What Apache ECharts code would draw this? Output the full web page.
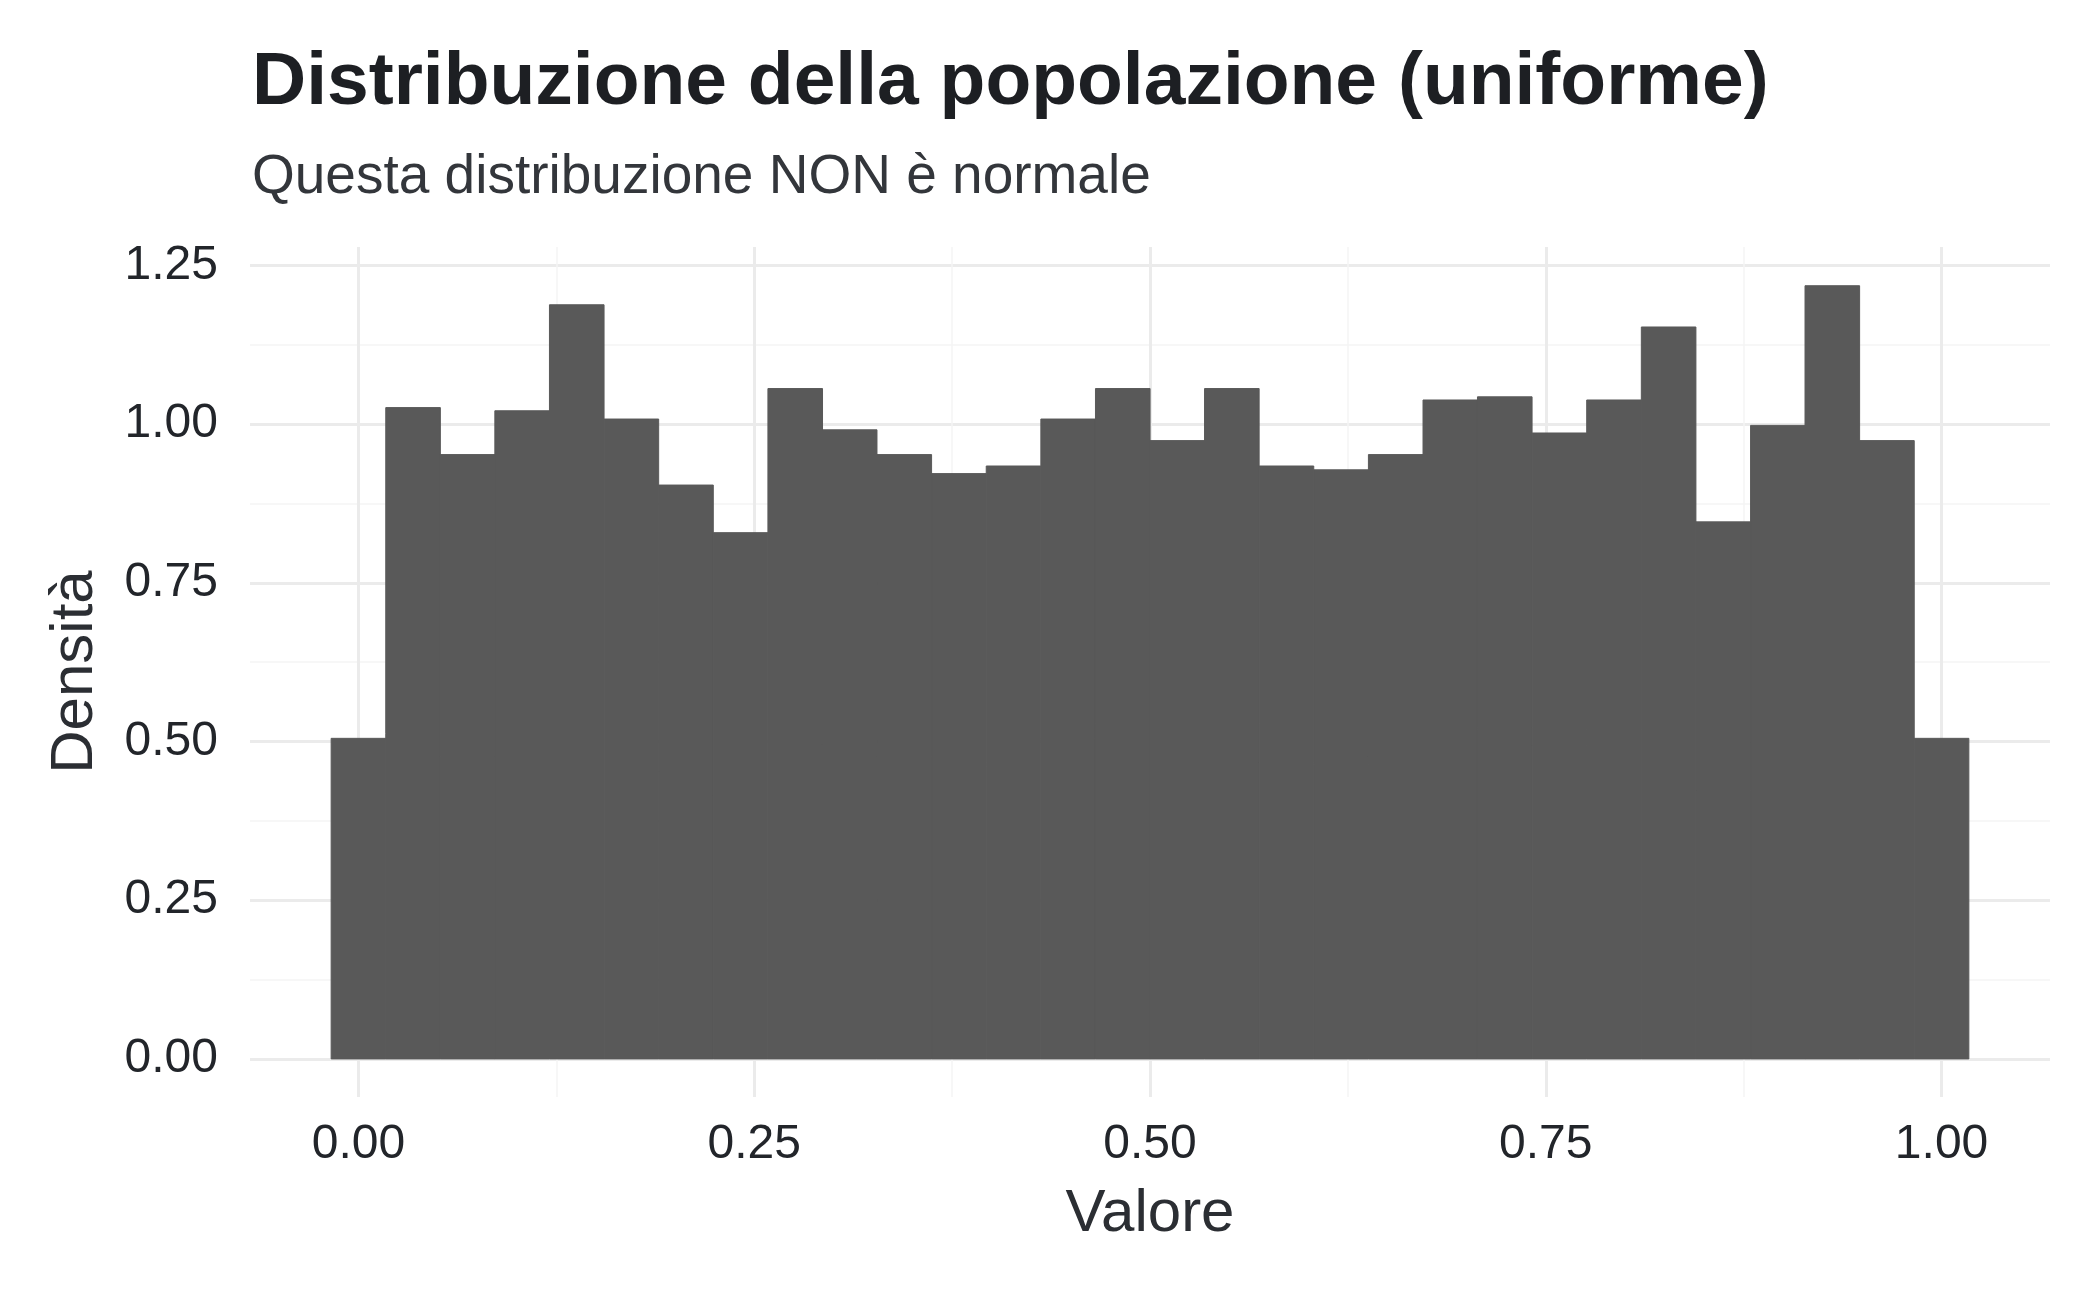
<!DOCTYPE html>
<html>
<head>
<meta charset="utf-8">
<title>Distribuzione della popolazione (uniforme)</title>
<script src="https://cdn.jsdelivr.net/npm/echarts@6/dist/echarts.min.js"></script>
<style>
	html, body { margin: 0; padding: 0; background: #ffffff; }
	#main { width: 2100px; height: 1297px; }
</style>
</head>
<body>
<div id="main"></div>
<script>
// centri dei 30 intervalli (larghezza 1/29)
var binCenters = [0.0000, 0.0345, 0.0690, 0.1034, 0.1379, 0.1724, 0.2069, 0.2414, 0.2759, 0.3103,
	0.3448, 0.3793, 0.4138, 0.4483, 0.4828, 0.5172, 0.5517, 0.5862, 0.6207, 0.6552,
	0.6897, 0.7241, 0.7586, 0.7931, 0.8276, 0.8621, 0.8966, 0.9310, 0.9655, 1.0000];
// densità
var densita = [0.505, 1.026, 0.952, 1.021, 1.188, 1.008, 0.904, 0.829, 1.056, 0.991,
	0.952, 0.922, 0.934, 1.008, 1.056, 0.974, 1.056, 0.934, 0.928, 0.952,
	1.038, 1.043, 0.986, 1.038, 1.153, 0.846, 0.998, 1.218, 0.974, 0.505];
var binWidth = 0.03448;

var xTicks = [0, 0.25, 0.5, 0.75, 1];
var xMinor = [0.125, 0.375, 0.625, 0.875];
var yTicks = [0, 0.25, 0.5, 0.75, 1, 1.25];
var yMinor = [0.125, 0.375, 0.625, 0.875, 1.125];

var font = 'Liberation Sans';

var myChart = echarts.init(document.getElementById('main'));

var barre = [];
for (var i = 0; i < binCenters.length; i++) {
	barre.push([binCenters[i], densita[i]]);
}

function disegnaBarra(params, api) {
	var x = api.value(0);
	var y = api.value(1);
	var p0 = api.coord([x - binWidth / 2, y]);
	var p1 = api.coord([x + binWidth / 2, 0]);
	return {
		type: 'rect',
		shape: { x: p0[0], y: p0[1], width: p1[0] - p0[0], height: p1[1] - p0[1] },
		style: { fill: '#595959', stroke: '#595959', lineWidth: 1 }
	};
}

function etichetta(v) {
	return v.toFixed(2);
}

var option = {
	backgroundColor: '#ffffff',
	animation: false,
	title: [{
		text: 'Distribuzione della popolazione (uniforme)',
		left: 247,
		top: 41,
		textStyle: { fontFamily: font, fontSize: 75, fontWeight: 'bold', color: '#1d1f23' }
	}, {
		text: 'Questa distribuzione NON è normale',
		left: 247,
		top: 145,
		textStyle: { fontFamily: font, fontSize: 55, fontWeight: 'normal', color: '#33363b' }
	}],
	grid: { left: 250, right: 50, top: 247, bottom: 200 },
	xAxis: [{
		type: 'value',
		min: -0.0685,
		max: 1.0685,
		name: 'Valore',
		nameLocation: 'middle',
		nameGap: 87,
		nameTextStyle: { fontFamily: font, fontSize: 60, color: '#2b2e33' },
		axisLine: { show: false },
		axisTick: { show: false, customValues: xTicks },
		axisLabel: { customValues: xTicks, formatter: etichetta, fontFamily: font, fontSize: 48, color: '#22252a', margin: 24 },
		splitLine: { show: true, lineStyle: { color: '#ebebeb', width: 3 } }
	}, {
		type: 'value',
		min: -0.0685,
		max: 1.0685,
		position: 'bottom',
		axisLine: { show: false },
		axisTick: { show: false, customValues: xMinor },
		axisLabel: { show: false, customValues: xMinor },
		splitLine: { show: true, lineStyle: { color: '#f5f5f5', width: 1.5 } }
	}],
	yAxis: [{
		type: 'value',
		min: -0.06,
		max: 1.279,
		name: 'Densità',
		nameLocation: 'middle',
		nameGap: 145,
		nameTextStyle: { fontFamily: font, fontSize: 60, color: '#2b2e33' },
		axisLine: { show: false },
		axisTick: { show: false, customValues: yTicks },
		axisLabel: { customValues: yTicks, formatter: etichetta, fontFamily: font, fontSize: 48, color: '#22252a', margin: 32 },
		splitLine: { show: true, lineStyle: { color: '#ebebeb', width: 3 } }
	}, {
		type: 'value',
		min: -0.06,
		max: 1.279,
		position: 'left',
		axisLine: { show: false },
		axisTick: { show: false, customValues: yMinor },
		axisLabel: { show: false, customValues: yMinor },
		splitLine: { show: true, lineStyle: { color: '#f5f5f5', width: 1.5 } }
	}],
	series: [{
		name: 'Densità',
		type: 'custom',
		xAxisIndex: 0,
		yAxisIndex: 0,
		renderItem: disegnaBarra,
		encode: { x: 0, y: 1 },
		data: barre,
		z: 5
	}]
};

myChart.setOption(option);

window.addEventListener('resize', function() {
	myChart.resize();
});
</script>
</body>
</html>
